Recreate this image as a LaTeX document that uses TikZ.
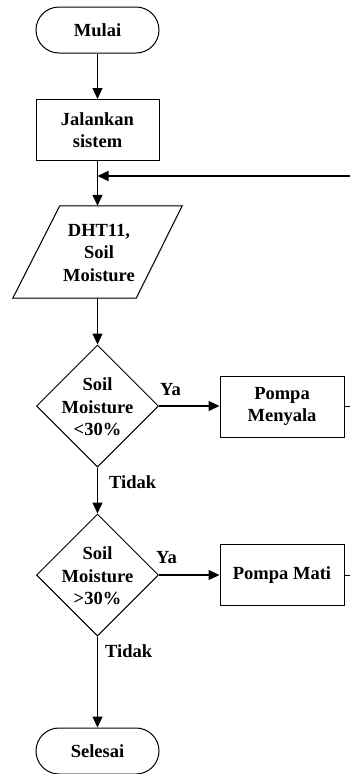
\documentclass[tikz,border=0pt]{standalone}
\usepackage{fontspec}
\setmainfont{Liberation Serif}
\newcommand\flowfont{\bfseries\fontsize{18.5}{22.5}\selectfont}
\usetikzlibrary{shapes.geometric,arrows.meta}
\begin{document}
\begin{tikzpicture}[x=1pt,y=-1pt,
  txt/.style={font=\flowfont,align=center},
  line/.style={line width=1.3pt,black},
  arr/.style={line, -{Triangle[length=11pt,width=10pt]}},
  term/.style={txt,draw,line width=1pt,rectangle,rounded corners=23pt,minimum width=123pt,minimum height=46pt,inner sep=0pt},
  proc/.style={txt,draw,line width=1pt,rectangle,minimum width=124pt,minimum height=61pt,inner sep=0pt},
  dec/.style={draw,line width=1pt,diamond,minimum width=122pt,minimum height=122pt,inner sep=0pt},
  lbl/.style={txt,anchor=west,inner sep=0pt}]
\useasboundingbox (0,0) rectangle (350,774);

\node[term] (start) at (97.5,30) {Mulai};
\node[proc,minimum width=123pt] (run) at (97.5,130) {Jalankan\\sistem};

\node[minimum width=169pt,minimum height=92pt,inner sep=0pt] (io) at (97.5,252) {};
\draw[blue!12!white,line width=2pt,shift={(1.5,1.5)}] ([xshift=47pt]io.north west) -- (io.north east) -- ([xshift=-46pt]io.south east) -- (io.south west) -- cycle;
\draw[line width=1pt,fill=white] ([xshift=47pt]io.north west) -- (io.north east) -- ([xshift=-46pt]io.south east) -- (io.south west) -- cycle;
\node[txt] (iotext) at (99,253) {DHT11,\\Soil\\Moisture};

\node[dec] (d1) at (97.5,406) {};
\node[txt] (d1text) at (97.5,407) {Soil\\Moisture\\<30\%};
\node[proc] (on) at (282,406.5) {Pompa\\Menyala};

\node[dec] (d2) at (97.5,575) {};
\node[txt] (d2text) at (97.5,576) {Soil\\Moisture\\>30\%};
\node[proc] (off) at (282,575) {Pompa Mati};

\node[term] (end) at (97.5,751) {Selesai};

\node[lbl] (ya1) at (160,390) {Ya};
\node[lbl] (tidak1) at (109,482) {Tidak};
\node[lbl] (ya2) at (156,558) {Ya};
\node[lbl] (tidak2) at (105,651) {Tidak};

\coordinate (loopR) at (350,176);
\coordinate (stub1) at (350,406.5);
\coordinate (stub2) at (350,575);

\draw[arr] (start) -- (run);
\draw[arr] (run) -- (io);
\draw[arr] (loopR) -- (loopR -| run.south);
\draw[arr] (io) -- (d1);
\draw[arr] (d1) -- (d2);
\draw[arr] (d2) -- (end);
\draw[arr] (d1.east) -- (d1.east -| on.west);
\draw[arr] (d2.east) -- (d2.east -| off.west);
\draw[line,line width=1pt] (on.east) -- (stub1);
\draw[line,line width=1pt] (off.east) -- (stub2);
\end{tikzpicture}
\end{document}
